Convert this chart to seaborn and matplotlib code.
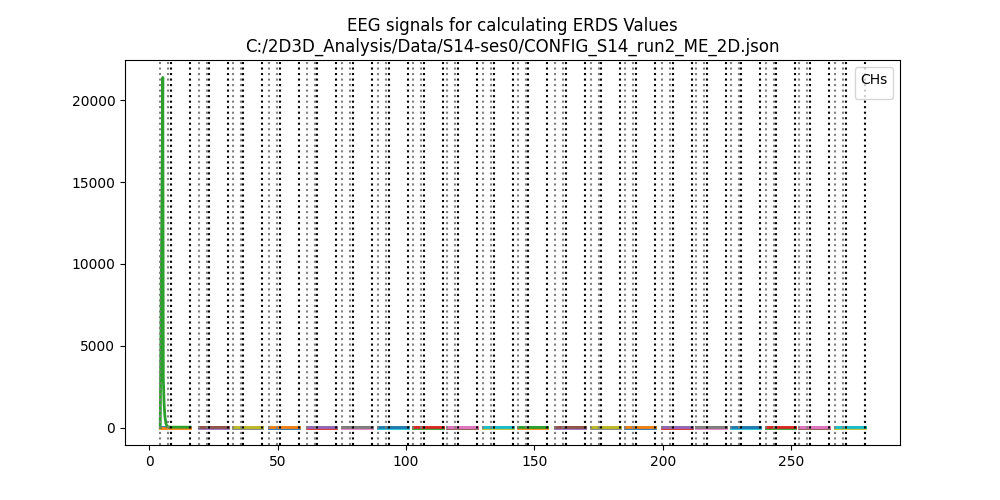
import matplotlib
matplotlib.use("Agg")
import matplotlib.pyplot as plt
import seaborn as sns
import numpy as np

# ---- data ----
title = "EEG signals for calculating ERDS Values\nC:/2D3D_Analysis/Data/S14-ses0/CONFIG_S14_run2_ME_2D.json"
legend_title = "CHs"
channels = ["C3", "Cz", "C4"]

# event times per trial (seconds)
ref_start = [4.3, 19.3, 32.6, 46.7, 61.4, 75.2, 89.2, 102.9, 116.0, 130.0,
             143.5, 158.0, 171.9, 185.4, 199.8, 212.9, 226.5, 240.1, 253.1, 267.1]
ref_end = [7.4, 22.4, 35.7, 49.8, 64.5, 78.3, 92.3, 106.0, 119.1, 133.1,
           146.6, 161.1, 175.0, 188.5, 202.9, 216.0, 229.6, 243.2, 256.2, 270.2]
act_start = [8.4, 23.4, 36.7, 50.8, 65.5, 79.3, 93.3, 107.0, 120.1, 134.1,
             147.6, 162.1, 176.0, 189.5, 203.9, 217.0, 230.6, 244.2, 257.2, 271.2]
act_end = [15.8, 30.8, 44.1, 58.2, 72.9, 86.7, 100.7, 114.4, 127.5, 141.5,
           155.0, 169.5, 183.4, 196.9, 211.3, 224.4, 238.0, 251.6, 264.6, 278.6]

# flat signal levels per channel (all trials)
channel_levels = [40.0, 0.0, 20.0]

# first trial, last channel: filter transient
spike_t = [4.3, 5.3, 5.5, 5.8, 6.1, 6.5, 7.0, 8.0, 15.8]
spike_v = [0.0, 21400.0, 3000.0, 1500.0, 700.0, 250.0, 60.0, 20.0, 20.0]

# ---- plot ----
palette = sns.color_palette("tab10", 10)
fig, ax = plt.subplots(figsize=(10, 5), dpi=100)

k = 0
for i in range(len(ref_start)):
    t = [ref_start[i], ref_end[i], act_start[i], act_end[i]]
    for c in range(len(channels)):
        if i == 0 and c == len(channels) - 1:
            xs, ys = spike_t, spike_v
        else:
            xs, ys = t, [channel_levels[c]] * len(t)
        sns.lineplot(x=xs, y=ys, ax=ax, color=palette[k % 10], lw=2,
                     sort=False, estimator=None)
        k += 1

for i in range(len(ref_start)):
    ax.axvline(ref_start[i], color="grey", ls=":", lw=1.5)
    ax.axvline(ref_end[i], color="grey", ls=":", lw=1.5)
    ax.axvline(act_start[i], color="black", ls=":", lw=1.5)
    ax.axvline(act_end[i], color="black", ls=":", lw=1.5)

ax.set_title(title)
ax.legend(title=legend_title, loc="upper right")

fig.savefig("out.png", dpi=100)
